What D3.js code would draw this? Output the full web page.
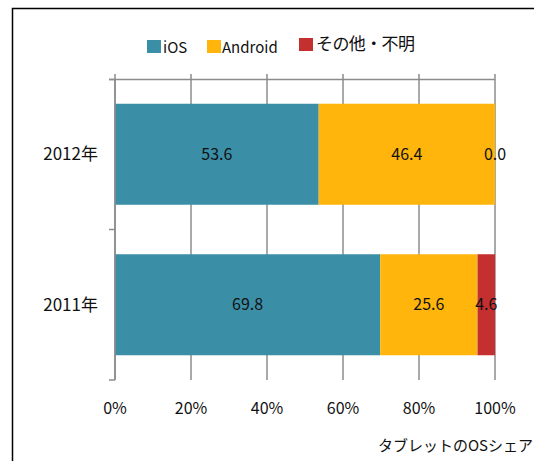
<!DOCTYPE html>
<html>
<head>
<meta charset="utf-8">
<script src="https://cdn.jsdelivr.net/npm/d3@7"></script>
<style>
  body { margin: 0; background: #fff; }
  text { font-family: "Noto Sans CJK JP", "Noto Sans", sans-serif; fill: #111; }
</style>
</head>
<body>
<svg id="chart" width="534" height="461"></svg>
<script>
// data
var years = ["2012年", "2011年"];
var seriesNames = ["iOS", "Android", "その他・不明"];
var iosShare = [53.6, 69.8];
var androidShare = [46.4, 25.6];
var otherShare = [0.0, 4.6];
var tickValues = [0, 20, 40, 60, 80, 100];
var chartTitle = "タブレットのOSシェア";

var colors = ["#3A8FA7", "#FFB50B", "#C4302F"];

var svg = d3.select("#chart");

// outer frame (cut off at right and bottom like the source)
svg.append("rect")
    .attr("x", 12.5).attr("y", 8.5)
    .attr("width", 600).attr("height", 600)
    .attr("fill", "none").attr("stroke", "#000").attr("stroke-width", 1.5);

var x = d3.scaleLinear().domain([0, 100]).range([115, 495]);
var y = d3.scaleBand().domain(years).range([79, 380]).padding(0);
var barH = 101;

// build stacked rows
var rows = years.map(function(yr, i){
    return {year: yr, values: [iosShare[i], androidShare[i], otherShare[i]]};
});

// gridlines (vertical)
svg.append("g").selectAll("line").data(tickValues).enter()
    .append("line")
    .attr("x1", function(d){ return x(d); }).attr("x2", function(d){ return x(d); })
    .attr("y1", 74).attr("y2", 380)
    .attr("stroke", "#8c8c8c").attr("stroke-width", 1.5);

// top horizontal line
svg.append("line")
    .attr("x1", 109).attr("x2", x(100))
    .attr("y1", 79.5).attr("y2", 79.5)
    .attr("stroke", "#8c8c8c").attr("stroke-width", 1.5);

// category axis ticks on the left
var catTicks = [79.5, y(years[1]), 380];
svg.append("g").selectAll("line").data(catTicks).enter()
    .append("line")
    .attr("x1", 109).attr("x2", 115)
    .attr("y1", function(d){ return d; }).attr("y2", function(d){ return d; })
    .attr("stroke", "#8c8c8c").attr("stroke-width", 1.5);

// bars
var g = svg.append("g");
rows.forEach(function(r){
    var cum = 0;
    var yc = y(r.year) + y.bandwidth() / 2;
    r.values.forEach(function(v, j){
        var x0 = x(cum), x1 = x(cum + v);
        g.append("rect")
            .attr("x", x0).attr("y", yc - barH / 2)
            .attr("width", x1 - x0).attr("height", barH)
            .attr("fill", colors[j]);
        cum += v;
    });
    cum = 0;
    r.values.forEach(function(v, j){
        g.append("text")
            .attr("x", x(cum + v / 2)).attr("y", yc)
            .attr("dy", "0.35em")
            .attr("text-anchor", "middle")
            .attr("font-size", 16)
            .text(v.toFixed(1));
        cum += v;
    });
});

// left axis line
svg.append("line")
    .attr("x1", 115).attr("x2", 115)
    .attr("y1", 79.5).attr("y2", 380)
    .attr("stroke", "#8c8c8c").attr("stroke-width", 1.5);

// category labels
svg.append("g").selectAll("text").data(years).enter()
    .append("text")
    .attr("x", 98)
    .attr("y", function(d){ return y(d) + y.bandwidth() / 2; })
    .attr("dy", "0.35em")
    .attr("text-anchor", "end")
    .attr("font-size", 17)
    .text(function(d){ return d; });

// value tick labels at bottom
svg.append("g").selectAll("text").data(tickValues).enter()
    .append("text")
    .attr("x", function(d){ return x(d); })
    .attr("y", 414)
    .attr("text-anchor", "middle")
    .attr("font-size", 16)
    .text(function(d){ return d + "%"; });

// legend
var legendItems = [
    {sx: 147, sy: 40, tx: 163, ty: 53, size: 15, ls: 0},
    {sx: 207, sy: 40, tx: 222, ty: 53, size: 15, ls: 0},
    {sx: 299, sy: 38, tx: 316, ty: 50, size: 17, ls: -0.6}
];
var lg = svg.append("g");
legendItems.forEach(function(l, i){
    lg.append("rect")
        .attr("x", l.sx).attr("y", l.sy)
        .attr("width", 14).attr("height", 13)
        .attr("fill", colors[i]);
    lg.append("text")
        .attr("x", l.tx).attr("y", l.ty)
        .attr("font-size", l.size)
        .attr("letter-spacing", l.ls)
        .text(seriesNames[i]);
});

// title bottom right
svg.append("text")
    .attr("x", 533).attr("y", 451)
    .attr("text-anchor", "end")
    .attr("font-size", 15)
    .text(chartTitle);
</script>
</body>
</html>
